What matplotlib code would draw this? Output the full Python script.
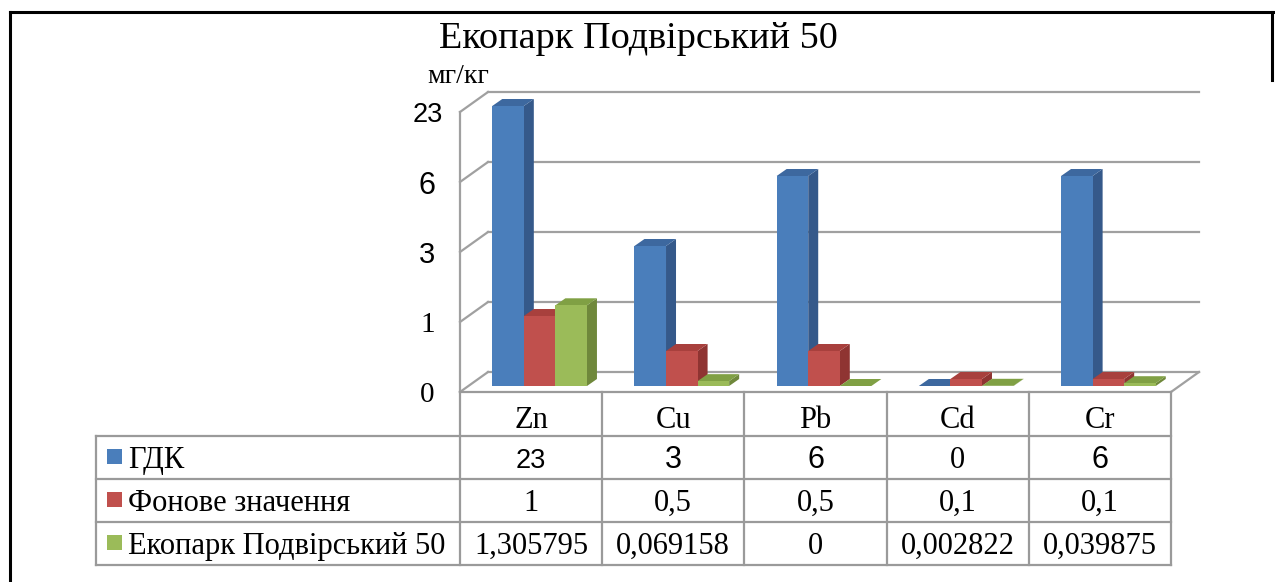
import numpy as np
import matplotlib
matplotlib.use("Agg")
import matplotlib.pyplot as plt
from matplotlib.patches import Polygon, Rectangle
from matplotlib.lines import Line2D

# ---- data -------------------------------------------------------------
title = "Екопарк Подвірський 50"
unit_label = "мг/кг"
elements = ["Zn", "Cu", "Pb", "Cd", "Cr"]
series_names = ["ГДК", "Фонове значення", "Екопарк Подвірський 50"]
gdk = [23, 3, 6, 0, 6]
background = [1, 0.5, 0.5, 0.1, 0.1]
ecopark = [1.305795, 0.069158, 0, 0.002822, 0.039875]
y_ticks = [0, 1, 3, 6, 23]

# ---- styles -----------------------------------------------------------
SERIF = "Liberation Serif"
SANS = "Liberation Sans"
face_colors = [  # (front, side, top)
    ("#4A7EBB", "#35598A", "#3D689F"),
    ("#C0504D", "#8F3432", "#A8403D"),
    ("#9BBB59", "#6F883B", "#80A044"),
]
grid_color = "#A0A0A0"
table_color = "#9A9A9A"
tick_styles = {0: (SERIF, 21), 1: (SERIF, 21), 3: (SANS, 21), 6: (SANS, 22), 23: (SANS, 19.5)}

W, H = 1275, 582
fig = plt.figure(figsize=(W / 100, H / 100), dpi=100)
fig.patch.set_facecolor("white")


def fx(px):
    return px / W


def fy(py):
    return 1 - py / H


# Value axes: front plane of the 3-D box. The value axis is stepped so that
# every labelled level gets an equal share of the height.
def fwd(v):
    return np.interp(v, y_ticks, np.arange(len(y_ticks)))


def inv(p):
    return np.interp(p, np.arange(len(y_ticks)), y_ticks)


ax = fig.add_axes([fx(460), fy(392), fx(1171) - fx(460), fy(112) - fy(392)])
ax.set_yscale("function", functions=(fwd, inv))
ax.set_xlim(-0.5, len(elements) - 0.5)
ax.set_ylim(0, max(y_ticks))
ax.patch.set_visible(False)
for s in ax.spines.values():
    s.set_visible(False)
ax.set_xticks([])
ax.set_yticks(y_ticks, labels=[str(t) for t in y_ticks])
ax.tick_params(axis="y", length=0, pad=23.5)
for lab, t in zip(ax.get_yticklabels(), y_ticks):
    lab.set_ha("center")
    fam, size = tick_styles[t]
    lab.set_fontfamily(fam)
    lab.set_fontsize(size)

# Overlay in pixel coordinates (y downwards) for the 3-D faces and the table
cv = fig.add_axes([0, 0, 1, 1])
cv.set_xlim(0, W)
cv.set_ylim(H, 0)
cv.axis("off")
cv.patch.set_alpha(0)

to_cv = cv.transData.inverted()


def pt(x, v):
    return to_cv.transform(ax.transData.transform((x, v)))


DEPTH = np.array([28.0, -20.0])      # floor depth
BAR_FRONT = np.array([8.5, -6.0])    # bar front plane
BAR_DEPTH = np.array([10.0, -7.0])   # bar thickness

# walls: gridlines on the back wall, diagonals on the left wall
x_left, x_right = -0.5, len(elements) - 0.5
for t in y_ticks:
    p0 = pt(x_left, t)
    p1 = pt(x_right, t)
    cv.add_line(Line2D([p0[0] + DEPTH[0], p1[0] + DEPTH[0]],
                       [p0[1] + DEPTH[1], p1[1] + DEPTH[1]],
                       color=grid_color, lw=1.6, zorder=1))
    cv.add_line(Line2D([p0[0], p0[0] + DEPTH[0]], [p0[1], p0[1] + DEPTH[1]],
                       color=grid_color, lw=1.6, zorder=1))
b0 = pt(x_left, 0)
top0 = pt(x_left, max(y_ticks))
cv.add_line(Line2D([b0[0], top0[0]], [b0[1], top0[1]], color=grid_color, lw=1.6, zorder=1))
br = pt(x_right, 0)
cv.add_line(Line2D([br[0], br[0] + DEPTH[0]], [br[1], br[1] + DEPTH[1]],
                   color=grid_color, lw=1.6, zorder=1))

# bars
bar_w = 0.222
series = [gdk, background, ecopark]
for i, el in enumerate(elements):
    for k, vals in enumerate(series):
        v = vals[i]
        xc = i + (k - 1) * bar_w
        x0, x1 = xc - bar_w / 2, xc + bar_w / 2
        fl = pt(x0, 0) + BAR_FRONT
        fr = pt(x1, 0) + BAR_FRONT
        tl = pt(x0, v) + BAR_FRONT
        tr = pt(x1, v) + BAR_FRONT
        front, side, topc = face_colors[k]
        z = 2 + i * 0.1 + k * 0.01
        cv.add_patch(Polygon([fr, tr, tr + BAR_DEPTH, fr + BAR_DEPTH],
                             closed=True, facecolor=side, edgecolor="none", zorder=z))
        cv.add_patch(Polygon([tl, tr, tr + BAR_DEPTH, tl + BAR_DEPTH],
                             closed=True, facecolor=topc, edgecolor="none", zorder=z))
        cv.add_patch(Polygon([fl, fr, tr, tl], closed=True,
                             facecolor=front, edgecolor="none", zorder=z + 0.001))

# ---- data table -------------------------------------------------------
col_x = [pt(i - 0.5, 0)[0] for i in range(len(elements) + 1)]
y_head_top = b0[1]
row_y = [436, 479, 522, 565]
label_left = 96
lw_t = 1.6
# horizontal rules
cv.add_line(Line2D([col_x[0], col_x[-1]], [y_head_top, y_head_top],
                   color=table_color, lw=lw_t, zorder=1.5))
for yy in row_y:
    cv.add_line(Line2D([label_left, col_x[-1]], [yy, yy], color=table_color, lw=lw_t, zorder=1.5))
# vertical rules
cv.add_line(Line2D([label_left, label_left], [row_y[0], row_y[-1]],
                   color=table_color, lw=lw_t, zorder=1.5))
for xx in col_x:
    cv.add_line(Line2D([xx, xx], [y_head_top, row_y[-1]], color=table_color, lw=lw_t, zorder=1.5))

col_c = [(a + b) / 2 for a, b in zip(col_x[:-1], col_x[1:])]
for xc, el in zip(col_c, elements):
    cv.text(xc, 428, el, ha="center", va="baseline", family=SERIF, fontsize=22)


def fmt(v):
    s = ("%.6f" % v).rstrip("0").rstrip(".")
    return s.replace(".", ",")


baselines = [468, 511, 554]
gdk_styles = [(SANS, 19.5), (SANS, 22), (SANS, 22), (SERIF, 22), (SANS, 22)]
for r, vals in enumerate(series):
    for j, v in enumerate(vals):
        if r == 0:
            fam, size = gdk_styles[j]
        else:
            fam, size = SERIF, 22
        cv.text(col_c[j], baselines[r], fmt(v), ha="center", va="baseline",
                family=fam, fontsize=size)
    # legend key + series name
    cv.add_patch(Rectangle((107, baselines[r] - 19), 15, 15,
                           facecolor=face_colors[r][0], edgecolor="none"))
    cv.text(128, baselines[r], series_names[r], ha="left", va="baseline",
            family=SERIF, fontsize=22)

# ---- titles -----------------------------------------------------------
cv.text(638.5, 48, title, ha="center", va="baseline", family=SERIF, fontsize=27.5)
cv.text(427, 83, unit_label, ha="left", va="baseline", family=SERIF, fontsize=20)

# frame
cv.add_line(Line2D([10, 10], [12, H], color="black", lw=2.2))
cv.add_line(Line2D([10, W], [12, 12], color="black", lw=2.2))
cv.add_line(Line2D([1272, 1272], [12, 80], color="black", lw=2.2))

fig.savefig("out.png", dpi=100, facecolor="white")
